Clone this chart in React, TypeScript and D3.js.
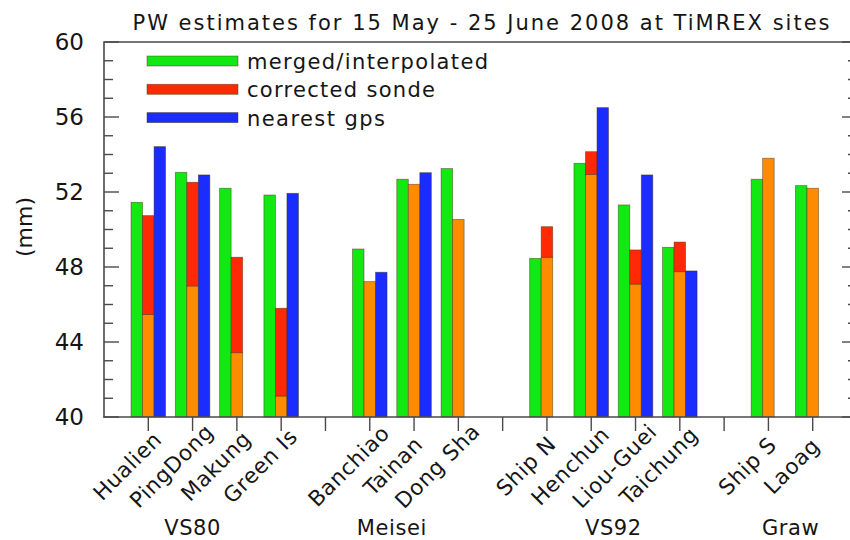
import React from "react";
import * as d3 from "d3";

// ---------- data ----------
const title = "PW estimates for 15 May - 25 June 2008 at TiMREX sites";
const groups = ["VS80", "Meisei", "VS92", "Graw"];
const groupSites: string[][] = [
  ["Hualien", "PingDong", "Makung", "Green Is"],
  ["Banchiao", "Tainan", "Dong Sha"],
  ["Ship N", "Henchun", "Liou-Guei", "Taichung"],
  ["Ship S", "Laoag"],
];
const sites = groupSites.flat();
// merged/interpolated PW (mm)
const merged = [51.45, 53.05, 52.2, 51.84, 48.96, 52.68, 53.25, 48.46, 53.53, 51.31, 49.05, 52.68, 52.34];
// sonde before correction (orange part)
const sondeRaw = [45.47, 46.99, 43.43, 41.12, 47.22, 52.41, 50.54, 48.52, 52.94, 47.09, 47.75, 53.8, 52.2];
// corrected sonde (top of red part)
const sondeCorrected = [50.74, 52.52, 48.52, 45.8, 47.22, 52.41, 50.54, 50.15, 54.15, 48.91, 49.33, 53.8, 52.2];
// nearest gps
const gps: (number | null)[] = [54.42, 52.91, null, 51.93, 47.72, 53.03, null, null, 56.5, 52.91, 47.79, null, null];
const yTicks = [40, 44, 48, 52, 56, 60];
const legendLabels = ["merged/interpolated", "corrected sonde", "nearest gps"];

// ---------- layout ----------
const W = 850, H = 540;
const L = 104, R = 857, T = 42, B = 417;
const FONT = "'DejaVu Sans', sans-serif";
const C_GREEN = "#12e812";
const C_RED = "#ff2a05";
const C_ORANGE = "#ff8c00";
const C_BLUE = "#1a2cff";
const C_TEXT = "#151515";
const C_AXIS = "#4a4a4a";
const BAR_STROKE = "rgba(70,45,20,0.55)";

// slot index of each site: groups separated by one empty slot
const siteSlot: number[] = [];
const groupCenters: number[] = [];
{
  let s = 0;
  groupSites.forEach((g, gi) => {
    const start = s;
    g.forEach(() => { siteSlot.push(s); s += 1; });
    groupCenters.push((start + s - 1) / 2);
    if (gi < groupSites.length - 1) s += 1;
  });
}
const groupLabelShift = [-0.5, -0.5, 0, 0];
const nSlots = siteSlot[siteSlot.length - 1] + 1;

export default function App() {
  const x = d3.scaleLinear().domain([-1, nSlots]).range([L, R]);
  const y = d3.scaleLinear().domain([40, 60]).range([B, T]);
  const unit = x(1) - x(0);
  const bw = unit * 0.26;
  const minor = d3.range(40, 61, 1);

  const rect = (x0: number, v0: number, v1: number, fill: string, key: string) => (
    <rect key={key} x={x0} y={y(v1)} width={bw} height={Math.max(0, y(v0) - y(v1))}
      fill={fill} stroke={BAR_STROKE} strokeWidth={0.8} />
  );

  return (
    <svg width={W} height={H} style={{ position: "absolute", left: 0, top: 0, background: "#fff" }}
      fontFamily={FONT}>
      <rect x={0} y={0} width={W} height={H} fill="#fff" />
      {/* title */}
      <text x={481} y={30} textAnchor="middle" fontSize={21} fill={C_TEXT} textLength={697}
        lengthAdjust="spacing">{title}</text>

      {/* bars */}
      {sites.map((s, i) => {
        const cx = x(siteSlot[i]);
        const els = [];
        els.push(rect(cx - 1.5 * bw, 40, merged[i], C_GREEN, "g"));
        els.push(rect(cx - 0.5 * bw, 40, sondeRaw[i], C_ORANGE, "o"));
        if (sondeCorrected[i] > sondeRaw[i] + 0.01)
          els.push(rect(cx - 0.5 * bw, sondeRaw[i], sondeCorrected[i], C_RED, "r"));
        if (gps[i] != null) els.push(rect(cx + 0.5 * bw, 40, gps[i] as number, C_BLUE, "b"));
        return <g key={s}>{els}</g>;
      })}

      {/* frame */}
      <path d={`M${L},${B}V${T}H${R}`} fill="none" stroke={C_AXIS} strokeWidth={1.6} />
      <line x1={L - 1} x2={R} y1={B} y2={B} stroke={C_AXIS} strokeWidth={1.6} />

      {/* y ticks */}
      {minor.map((v) => {
        const major = v % 4 === 0;
        const len = major ? 15 : 9;
        return (
          <g key={v}>
            <line x1={L} x2={L + len} y1={y(v)} y2={y(v)} stroke={C_AXIS} strokeWidth={1.4} />
            <line x1={R} x2={R - len} y1={y(v)} y2={y(v)} stroke={C_AXIS} strokeWidth={1.4} />
          </g>
        );
      })}
      {yTicks.map((v) => (
        <text key={v} x={84} y={y(v)} textAnchor="end" dominantBaseline="central" fontSize={23}
          fill={C_TEXT}>{v}</text>
      ))}
      <text transform={`translate(24,227) rotate(-90)`} textAnchor="middle" dominantBaseline="central"
        fontSize={22} fill={C_TEXT}>(mm)</text>

      {/* x ticks */}
      {d3.range(0, nSlots).map((s) => (
        <line key={s} x1={x(s)} x2={x(s)} y1={B} y2={B + 14} stroke={C_AXIS} strokeWidth={1.4} />
      ))}
      {sites.map((s, i) => (
        <text key={s} transform={`translate(${x(siteSlot[i]) - 21},466) rotate(-45)`}
          textAnchor="middle" dominantBaseline="central" fontSize={21.5} letterSpacing={0.6}
          fill={C_TEXT}>{s}</text>
      ))}
      {groups.map((g, gi) => (
        <text key={g} x={x(groupCenters[gi] + groupLabelShift[gi])} y={535} textAnchor="middle"
          fontSize={21} letterSpacing={0.6} fill={C_TEXT}>{g}</text>
      ))}

      {/* legend */}
      {legendLabels.map((lab, i) => {
        const cy = 61 + i * 28.3;
        const col = [C_GREEN, C_RED, C_BLUE][i];
        const tl = [241, 188, 138][i];
        return (
          <g key={lab}>
            <rect x={147} y={cy - 5} width={91} height={10} fill={col} stroke={BAR_STROKE} strokeWidth={0.8} />
            <text x={247} y={cy + 8} fontSize={21} fill={C_TEXT} textLength={tl} lengthAdjust="spacing">{lab}</text>
          </g>
        );
      })}
    </svg>
  );
}
